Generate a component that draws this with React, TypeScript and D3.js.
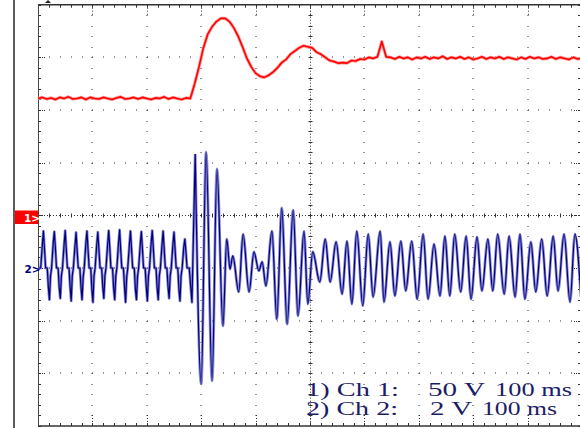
import React from 'react';
import * as d3 from 'd3';

const W = 580;
const H = 428;
const TIME_SPAN_MS = 1000; // 10 divisions x 100 ms
const DIVS_Y = 8;
const CH1_VOLTS_PER_DIV = 50;
const CH2_VOLTS_PER_DIV = 2;
const CH1_OFFSET_DIV = 0;
const CH2_OFFSET_DIV = -1;

// Channel 1 (red), sampled every 8 ms, volts
const ch1SampleMs = 8;
const ch1Volts = [
  111, 112, 110.5, 111.5, 110, 112, 111, 112.5, 110.5, 111, 112, 110, 112, 111, 110.5, 112, 111, 110,
  111.5, 112.5, 110.5, 111, 112, 110.5, 112, 111, 110, 111.5, 111, 112.5, 110.5, 112, 111, 110, 111.5, 111,
  125, 141, 159, 172, 179, 184, 187, 187, 184, 178, 170, 160, 149, 141, 135, 132, 131, 133,
  136, 140, 145, 148, 153, 156, 159, 161, 160, 159, 155, 153, 150, 147, 146, 144.5, 145, 144.5,
  147, 146.5, 148.5, 148, 150, 149, 150.5, 165, 150.5,
  150, 148.5, 150.5, 149, 150, 148, 150, 149, 150.5, 148.5, 150, 149, 151, 148.5, 150, 149, 150.5, 148.5,
  150, 148, 149, 150.5, 148.5, 150, 149, 150.5, 148.5, 150, 149, 148, 150, 148.5, 150.5, 149, 150, 148.5,
  149, 150.5, 148.5, 150, 149, 148, 150, 148.5, 149,
];

// Channel 2 (blue), [ms, volts]
const ch2PreEvent: [number, number][] = [
  [1, 0],
  [5, 0], [8, 0.9], [10, 1.4], [12, 0.7], [14, 0], [17, 0], [19, -0.7], [21, -1.2], [23, -0.3],
  [25, 0], [28, 0.95], [30, 1.38], [32, 0.75], [34, 0], [37, 0], [39, -0.75], [41, -1.15], [43, -0.3],
  [45, 0], [48, 0.9], [50, 1.42], [52, 0.7], [54, 0], [57, 0], [59, -0.7], [61, -1.25], [63, -0.3],
  [65, 0], [68, 0.85], [70, 1.35], [72, 0.65], [74, 0], [77, 0], [79, -0.7], [81, -1.2], [83, -0.35],
  [85, 0], [88, 0.95], [90, 1.4], [92, 0.7], [94, 0], [97, 0], [99, -0.8], [101, -1.3], [103, -0.3],
  [105, 0], [108, 0.9], [110, 1.36], [112, 0.7], [114, 0], [117, 0], [119, -0.7], [121, -1.15], [123, -0.3],
  [125, 0], [128, 0.9], [130, 1.42], [132, 0.75], [134, 0], [137, 0], [139, -0.75], [141, -1.2], [143, -0.3],
  [145, 0], [148, 0.95], [150, 1.45], [152, 0.7], [154, 0], [157, 0], [159, -0.7], [161, -1.3], [163, -0.35],
  [165, 0], [168, 0.9], [170, 1.4], [172, 0.7], [174, 0], [177, 0], [179, -0.8], [181, -1.2], [183, -0.3],
  [185, 0], [188, 0.9], [190, 1.38], [192, 0.7], [194, 0], [197, 0], [199, -0.7], [201, -1.25], [203, -0.3],
  [205, 0], [208, 0.95], [210, 1.42], [212, 0.75], [214, 0], [217, 0], [219, -0.75], [221, -1.2], [223, -0.3],
  [225, 0], [228, 0.9], [230, 1.4], [232, 0.7], [234, 0], [237, 0], [239, -0.7], [241, -1.15], [243, -0.3],
  [245, 0], [248, 0.9], [250, 1.36], [252, 0.7], [254, 0], [257, 0], [259, -0.8], [261, -1.25], [263, -0.3],
  [265, 0], [268, 0.8], [270, 1.1], [272, 0.6], [274, 0], [278, 0], [281, -0.8], [283, -1.3],
];
const ch2PostEvent: [number, number][] = [
  [289, 4.33], [300, -4.4], [309, 4.4], [320, -4.29], [329, 3.76], [340, -2.2], [347, 1.1],
  [353, -0.04], [358, 0.46], [369, -0.91], [377, 1.29], [388, -0.91], [397, 0.61], [406, -0.11],
  [412, 0.23], [419, -0.68], [430, 1.4], [439, -1.94], [448, 2.28], [458, -2.13], [469, 2.2],
  [478, -1.82], [489, 1.4], [496, -1.37], [505, 0.61], [518, -0.53], [528, 1.1], [537, -0.53],
  [548, 0.99], [559, -0.99], [568, 1.02], [577, -1.37], [586, 1.4], [597, -1.44], [607, 1.29],
  [616, -1.1], [629, 1.4], [636, -1.29], [647, 0.99], [656, -1.06], [667, 1.02], [676, -0.87],
  [687, 1.02], [697, -1.18], [708, 1.29], [717, -1.18], [728, 0.91], [739, -1.06], [748, 1.21],
  [757, -1.06], [766, 1.29], [777, -0.91], [787, 1.21], [796, -1.18], [807, 1.18], [816, -0.87],
  [827, 1.1], [836, -0.87], [845, 1.29], [857, -0.99], [866, 1.21], [877, -1.1], [886, 1.29],
  [895, -1.18], [906, 0.99], [915, -0.91], [926, 1.1], [936, -1.06], [947, 1.21], [956, -0.87],
  [967, 1.29], [978, -1.29], [987, 1.29], [998, -1.1],
];

const legendLabels = ['1) Ch 1:', '2) Ch 2:'];
const legendScales = ['50 V', '2 V'];
const legendTimes = ['100 ms', '100 ms'];

export default function App() {
  const X0 = 38, X1 = 582, Y0 = 4.7, Y1 = 426;
  const x = d3.scaleLinear().domain([0, TIME_SPAN_MS]).range([X0, X1]);
  const yDiv = d3.scaleLinear().domain([DIVS_Y / 2, -DIVS_Y / 2]).range([Y0, Y1]);
  const y1 = (v: number) => yDiv(v / CH1_VOLTS_PER_DIV + CH1_OFFSET_DIV);
  const y2 = (v: number) => yDiv(v / CH2_VOLTS_PER_DIV + CH2_OFFSET_DIV);

  const ch1Data: [number, number][] = ch1Volts.map((v, i) => [i * ch1SampleMs, v]);
  const line1 = d3.line<[number, number]>().x(d => x(d[0])).y(d => y1(d[1])).curve(d3.curveLinear);
  const line2Lin = d3.line<[number, number]>().x(d => x(d[0])).y(d => y2(d[1])).curve(d3.curveLinear);
  const line2Smooth = d3.line<[number, number]>().x(d => x(d[0])).y(d => y2(d[1])).curve(d3.curveMonotoneX);
  const lastPre = ch2PreEvent[ch2PreEvent.length - 1];
  const ch2PathD =
    (line2Lin([...ch2PreEvent, ch2PostEvent[0]]) || '') + ' ' + (line2Smooth(ch2PostEvent) || '');
  void lastPre;

  const minorX = d3.range(0, 51).map(i => i * 20);
  const majorX = d3.range(1, 10).map(i => i * 100);
  const minorY = d3.range(0, 41).map(i => -4 + i * 0.2);
  const majorY = d3.range(-3, 4);
  const dot = '#2a2a2a';

  const gridDots: JSX.Element[] = [];
  majorX.filter(t => t !== 500).forEach(t => {
    minorY.slice(1, -1).forEach((d, j) => {
      gridDots.push(<rect key={`vx${t}-${j}`} x={Math.round(x(t)) - 0.5} y={Math.round(yDiv(d))} width={1} height={1} fill={dot} />);
    });
  });
  majorY.filter(d => d !== 0).forEach(d => {
    minorX.slice(1, -1).forEach((t, j) => {
      gridDots.push(<rect key={`hy${d}-${j}`} x={Math.round(x(t))} y={Math.round(yDiv(d)) - 0.5} width={1} height={1} fill={dot} />);
    });
  });

  const cx = Math.round(x(500)) + 0.5;
  const cy = Math.round(yDiv(0)) + 0.5;

  return (
    <svg width={W} height={H} style={{ position: 'absolute', left: 0, top: 0, display: 'block', background: '#fff' }}>
      <rect x={0} y={0} width={W} height={H} fill="#fff" />
      <line x1={14} x2={14} y1={0} y2={H} stroke="#333" strokeWidth={1.6} />
      <path d="M45,3 L51,3 L48,0 Z" fill="#222" />

      {gridDots}

      <line x1={cx} x2={cx} y1={Y0} y2={Y1} stroke="#333" strokeWidth={1} strokeDasharray="1 2" />
      <line x1={X0} x2={X1} y1={cy} y2={cy} stroke="#333" strokeWidth={1} strokeDasharray="1 2" />
      {minorY.slice(1, -1).map((d, i) => (
        <line key={`cvt${i}`} x1={cx - 2} x2={cx + 2} y1={Math.round(yDiv(d)) + 0.5} y2={Math.round(yDiv(d)) + 0.5} stroke="#333" strokeWidth={1} />
      ))}
      {minorX.slice(1, -1).map((t, i) => (
        <line key={`cht${i}`} x1={Math.round(x(t)) + 0.5} x2={Math.round(x(t)) + 0.5} y1={cy - 2} y2={cy + 2} stroke="#333" strokeWidth={1} />
      ))}

      {minorX.map((t, i) => (
        <g key={`bx${i}`}>
          <line x1={Math.round(x(t)) + 0.5} x2={Math.round(x(t)) + 0.5} y1={Y0} y2={Y0 + 3} stroke="#333" />
          <line x1={Math.round(x(t)) + 0.5} x2={Math.round(x(t)) + 0.5} y1={Y1 - 3} y2={Y1} stroke="#333" />
        </g>
      ))}
      {minorY.map((d, i) => (
        <g key={`by${i}`}>
          <line x1={X0} x2={X0 + 3} y1={Math.round(yDiv(d)) + 0.5} y2={Math.round(yDiv(d)) + 0.5} stroke="#333" />
          <line x1={X1 - 4} x2={X1} y1={Math.round(yDiv(d)) + 0.5} y2={Math.round(yDiv(d)) + 0.5} stroke="#333" />
        </g>
      ))}
      {majorX.map((t, i) => (
        <g key={`mx${i}`}>
          <line x1={Math.round(x(t)) + 0.5} x2={Math.round(x(t)) + 0.5} y1={Y0} y2={Y0 + 11} stroke="#333" strokeDasharray="1 2" />
          <line x1={Math.round(x(t)) + 0.5} x2={Math.round(x(t)) + 0.5} y1={Y1 - 11} y2={Y1} stroke="#333" strokeDasharray="1 2" />
        </g>
      ))}
      {majorY.map((d, i) => (
        <g key={`my${i}`}>
          <line x1={X0} x2={X0 + 8} y1={Math.round(yDiv(d)) + 0.5} y2={Math.round(yDiv(d)) + 0.5} stroke="#333" strokeDasharray="1 1" />
          <line x1={X1 - 8} x2={X1} y1={Math.round(yDiv(d)) + 0.5} y2={Math.round(yDiv(d)) + 0.5} stroke="#333" strokeDasharray="1 1" />
        </g>
      ))}

      <line x1={X0} x2={X1} y1={Y0} y2={Y0} stroke="#333" strokeWidth={1.4} />
      <line x1={X0} x2={X1} y1={Y1} y2={Y1} stroke="#333" strokeWidth={1.4} />
      <line x1={X0 + 0.5} x2={X0 + 0.5} y1={Y0} y2={Y1} stroke="#444" strokeWidth={1} />
      <line x1={X1} x2={X1} y1={Y0} y2={Y1} stroke="#444" strokeWidth={1} />

      <path d={line1(ch1Data) || ''} fill="none" stroke="#ff9a9a" strokeWidth={3.2} strokeLinejoin="round" />
      <path d={line1(ch1Data) || ''} fill="none" stroke="#ff0000" strokeWidth={1.6} strokeLinejoin="round" />
      <path d={ch2PathD} fill="none" stroke="#8a8ad0" strokeWidth={2.8} strokeLinejoin="round" />
      <path d={ch2PathD} fill="none" stroke="#00007f" strokeWidth={1.2} strokeLinejoin="round" />

      <rect x={15} y={210.5} width={23} height={13.5} fill="#ff0000" />
      <text x={24} y={221.5} fill="#fff" fontFamily="DejaVu Sans, sans-serif" fontWeight="bold" fontSize={10.5}>1&gt;</text>
      <text x={24.5} y={273} fill="#00007f" fontFamily="DejaVu Sans, sans-serif" fontWeight="bold" fontSize={10.5}>2&gt;</text>

      {legendLabels.map((lab, i) => {
        const base = i === 0 ? 396 : 415;
        const wLab = i === 0 ? 93 : 92;
        const xs = i === 0 ? 428 : 430;
        const ws = i === 0 ? 57 : 42;
        const xt = i === 0 ? 495 : 482;
        const wt = i === 0 ? 77 : 75;
        return (
          <g key={`lg${i}`} fill="#1c1c66" fontFamily="Liberation Serif, Times New Roman, serif" fontSize={18}>
            <text x={306} y={base} textLength={wLab} lengthAdjust="spacingAndGlyphs">{lab}</text>
            <text x={xs} y={base} textLength={ws} lengthAdjust="spacingAndGlyphs">{legendScales[i]}</text>
            <text x={xt} y={base} textLength={wt} lengthAdjust="spacingAndGlyphs">{legendTimes[i]}</text>
          </g>
        );
      })}
    </svg>
  );
}
